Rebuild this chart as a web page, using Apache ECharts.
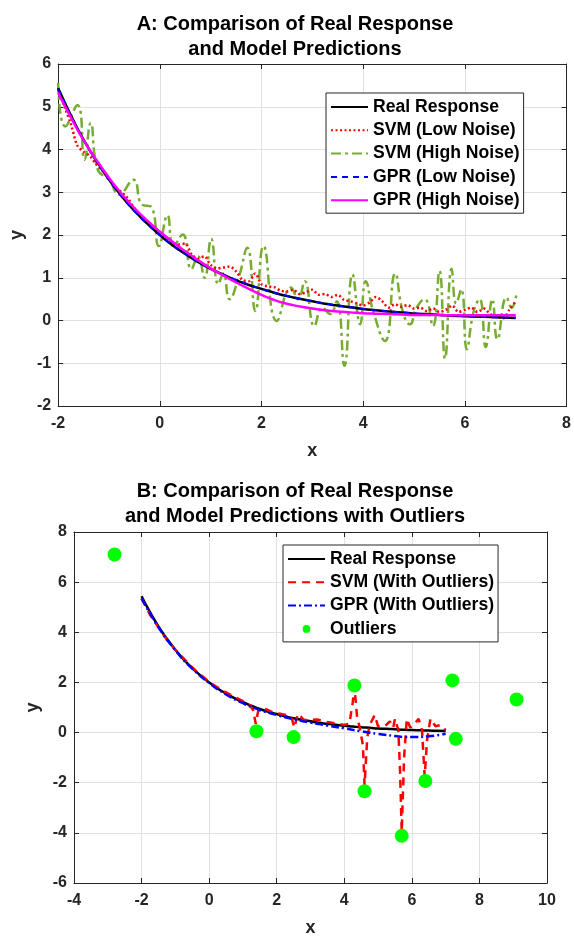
<!DOCTYPE html>
<html>
<head>
<meta charset="utf-8">
<script src="https://cdn.jsdelivr.net/npm/echarts@6/dist/echarts.min.js"></script>
<style>
html,body{margin:0;padding:0;background:#fff;}
#chart{width:574px;height:938px;}
</style>
</head>
<body>
<div id="chart"></div>
<script>
// ---------- Panel A data ----------
var realX = [-2,-1.75,-1.5,-1.25,-1,-0.75,-0.5,-0.25,0,0.25,0.5,0.75,1,1.25,1.5,1.75,2,2.25,2.5,2.75,3,3.25,3.5,3.75,4,4.25,4.5,4.75,5,5.25,5.5,5.75,6,6.25,6.5,6.75,7];
var realY = [5.44,4.80,4.23,3.74,3.30,2.91,2.57,2.27,2.00,1.76,1.56,1.37,1.21,1.07,0.94,0.83,0.74,0.65,0.57,0.51,0.45,0.39,0.35,0.31,0.27,0.24,0.21,0.19,0.16,0.15,0.13,0.11,0.10,0.09,0.08,0.07,0.06];

var gprLowY = [5.42,4.79,4.22,3.73,3.29,2.90,2.56,2.26,2.00,1.76,1.55,1.37,1.21,1.07,0.95,0.84,0.74,0.65,0.58,0.51,0.45,0.40,0.35,0.31,0.27,0.24,0.21,0.19,0.17,0.15,0.13,0.12,0.10,0.09,0.08,0.07,0.07];

var gprHighY = [5.33,4.75,4.22,3.76,3.34,2.96,2.63,2.34,2.08,1.84,1.62,1.41,1.22,1.05,0.89,0.74,0.60,0.48,0.39,0.33,0.28,0.24,0.21,0.19,0.17,0.16,0.15,0.14,0.13,0.13,0.13,0.12,0.12,0.12,0.12,0.12,0.12];

var svmLowX = [-2,-1.875,-1.75,-1.625,-1.5,-1.375,-1.25,-1.125,-1,-0.875,-0.75,-0.625,-0.5,-0.375,-0.25,-0.125,0,0.125,0.25,0.375,0.5,0.625,0.75,0.875,1,1.125,1.25,1.375,1.5,1.625,1.75,1.875,2,2.125,2.25,2.375,2.5,2.625,2.75,2.875,3,3.125,3.25,3.375,3.5,3.625,3.75,3.875,4,4.125,4.25,4.375,4.5,4.625,4.75,4.875,5,5.125,5.25,5.375,5.5,5.625,5.75,5.875,6,6.125,6.25,6.375,6.5,6.625,6.75,6.875,7];
var svmLowY = [5.40,5.00,4.60,4.10,3.95,3.85,3.65,3.50,3.30,3.10,3.00,2.85,2.62,2.45,2.30,2.15,2.02,1.90,1.80,1.78,1.80,1.55,1.45,1.50,1.30,1.22,1.24,1.26,1.15,0.95,0.92,1.10,0.85,0.80,0.78,0.70,0.68,0.72,0.62,0.66,0.72,0.60,0.62,0.55,0.60,0.48,0.45,0.40,0.35,0.42,0.55,0.45,0.30,0.38,0.32,0.36,0.28,0.30,0.22,0.28,0.20,0.25,0.35,0.20,0.25,0.30,0.20,0.28,0.15,0.10,0.05,0.25,0.45];

var svmHighX = [-2,-1.86,-1.62,-1.48,-1.36,-1.22,-1.0,-0.8,-0.52,-0.35,-0.17,-0.02,0.15,0.27,0.45,0.62,0.75,0.88,1.01,1.15,1.25,1.37,1.55,1.72,1.88,2.04,2.30,2.58,2.72,2.85,3.04,3.2,3.35,3.48,3.63,3.79,3.94,4.05,4.2,4.43,4.63,4.78,4.92,5.05,5.21,5.37,5.5,5.61,5.74,5.83,5.93,6.04,6.17,6.29,6.41,6.54,6.64,6.82,6.92,7.02];
var svmHighY = [5.56,4.54,5.04,3.76,4.62,3.53,3.30,2.95,3.29,2.71,2.66,1.74,2.46,1.74,2.01,1.20,1.50,1.00,1.91,0.85,1.10,0.50,1.00,1.70,0.22,1.74,-0.01,0.77,0.50,0.92,-0.13,0.30,0.15,0.45,-1.06,1.08,-0.09,0.92,0.20,-0.48,1.10,0.20,-0.09,0.30,0.50,-0.13,1.16,-0.89,1.21,0.40,0.73,-0.67,0.20,0.50,-0.62,0.50,-0.44,0.54,0.30,0.65];

// ---------- Panel B data ----------
var svmOutX = [-2,-1.75,-1.5,-1.25,-1,-0.75,-0.5,-0.25,0,0.25,0.5,0.75,1,1.2,1.3,1.38,1.45,1.5,1.7,1.9,2.1,2.3,2.45,2.52,2.6,2.65,2.8,3,3.2,3.5,3.8,4,4.15,4.25,4.3,4.38,4.45,4.55,4.6,4.68,4.75,4.9,5,5.2,5.35,5.45,5.5,5.6,5.65,5.7,5.77,5.85,5.95,6.05,6.2,6.3,6.38,6.45,6.55,6.7,6.85,7];
var svmOutY = [5.35,4.70,4.20,3.70,3.30,2.95,2.60,2.30,2.02,1.80,1.60,1.42,1.25,1.10,0.90,0.35,0.85,0.95,0.92,0.80,0.75,0.70,0.55,0.20,0.60,0.75,0.50,0.50,0.52,0.42,0.35,0.30,0.35,1.20,1.85,0.60,0.25,-0.50,-2.10,-0.20,0.30,0.70,0.25,0.25,0.45,0.20,0.55,0.10,-1.50,-3.95,-1.00,0.55,0.20,0.30,0.55,0.10,-1.75,-0.30,0.55,0.25,0.30,0.10];

var gprOutX = [-2,-1.5,-1,-0.5,0,0.5,1,1.5,2,2.5,3,3.5,4,4.5,5,5.5,5.8,6,6.5,7];
var gprOutY = [5.35,4.20,3.28,2.55,1.98,1.52,1.17,0.90,0.70,0.53,0.40,0.28,0.17,0.05,-0.05,-0.14,-0.18,-0.18,-0.15,-0.05];

var outlierX = [-2.8,1.4,2.5,4.3,4.6,5.7,6.4,7.2,7.3,9.1];
var outlierY = [7.1,0.05,-0.18,1.88,-2.34,-4.12,-1.93,2.08,-0.25,1.32];

// tick settings
var aXTicks = {min:-2, max:8, interval:2};
var aYTicks = {min:-2, max:6, interval:1};
var bXTicks = {min:-4, max:10, interval:2};
var bYTicks = {min:-6, max:8, interval:2};

function pairs(xs, ys){ return xs.map(function(x,i){ return [x, ys[i]]; }); }

var TXT = '#262626';
var FONT = 'Liberation Sans, Arial, Helvetica, sans-serif';
var GRIDC = '#e1e1e1';

function mainX(grid, t){
  return {type:'value', gridIndex:grid, min:t.min, max:t.max, interval:t.interval, position:'bottom',
    name:'x', nameLocation:'middle', nameGap:36,
    nameTextStyle:{fontFamily:FONT, fontWeight:'bold', fontSize:18, color:TXT},
    axisLine:{show:true, onZero:false, lineStyle:{color:TXT, width:1}},
    axisTick:{show:true, inside:true, length:5, lineStyle:{color:TXT}},
    axisLabel:{fontFamily:FONT, fontWeight:'bold', fontSize:16, color:TXT, margin:10},
    splitLine:{show:true, lineStyle:{color:GRIDC, width:1}}};
}
function sideX(grid, t){
  return {type:'value', gridIndex:grid, min:t.min, max:t.max, interval:t.interval, position:'top',
    axisLine:{show:true, onZero:false, lineStyle:{color:TXT, width:1}},
    axisTick:{show:true, inside:true, length:5, lineStyle:{color:TXT}},
    axisLabel:{show:false}, splitLine:{show:false}};
}
function mainY(grid, t, gap){
  return {type:'value', gridIndex:grid, min:t.min, max:t.max, interval:t.interval, position:'left',
    name:'y', nameLocation:'middle', nameGap:gap, nameRotate:90,
    nameTextStyle:{fontFamily:FONT, fontWeight:'bold', fontSize:18, color:TXT},
    axisLine:{show:true, onZero:false, lineStyle:{color:TXT, width:1}},
    axisTick:{show:true, inside:true, length:5, lineStyle:{color:TXT}},
    axisLabel:{fontFamily:FONT, fontWeight:'bold', fontSize:16, color:TXT, margin:7},
    splitLine:{show:true, lineStyle:{color:GRIDC, width:1}}};
}
function sideY(grid, t){
  return {type:'value', gridIndex:grid, min:t.min, max:t.max, interval:t.interval, position:'right',
    axisLine:{show:true, onZero:false, lineStyle:{color:TXT, width:1}},
    axisTick:{show:true, inside:true, length:5, lineStyle:{color:TXT}},
    axisLabel:{show:false}, splitLine:{show:false}};
}

var hideSym = {opacity:0};
var legendText = {fontFamily:FONT, fontWeight:'bold', fontSize:17.6, color:'#000', lineHeight:20};
var titleText = {fontFamily:FONT, fontWeight:'bold', fontSize:20, color:'#000', lineHeight:25};

var option = {
  animation:false,
  backgroundColor:'#fff',
  title:[
    {text:'A: Comparison of Real Response\nand Model Predictions', left:295, textAlign:'center', top:11.5, padding:0, textStyle:titleText},
    {text:'B: Comparison of Real Response\nand Model Predictions with Outliers', left:295, textAlign:'center', top:479, padding:0, textStyle:titleText}
  ],
  grid:[
    {left:53, top:64, width:515, height:342},
    {left:74, top:532, width:473, height:356}
  ],
  xAxis:[mainX(0,aXTicks), sideX(0,aXTicks), mainX(1,bXTicks), sideX(1,bXTicks)],
  yAxis:[mainY(0,aYTicks,29), sideY(0,aYTicks), mainY(1,bYTicks,29), sideY(1,bYTicks)],
  legend:[
    {orient:'vertical', left:326, top:93, itemWidth:37, itemHeight:14, itemGap:3.3,
     padding:[4,4,3,4], backgroundColor:'#fff', borderColor:'#262626', borderWidth:1, borderRadius:0,
     textStyle:legendText,
     data:[{name:'Real Response',itemStyle:hideSym},{name:'SVM (Low Noise)',itemStyle:hideSym},
           {name:'SVM (High Noise)',itemStyle:hideSym},{name:'GPR (Low Noise)',itemStyle:hideSym},
           {name:'GPR (High Noise)',itemStyle:hideSym}]},
    {orient:'vertical', left:283, top:545, itemWidth:37, itemHeight:14, itemGap:3.3,
     padding:[4,4,3,4], backgroundColor:'#fff', borderColor:'#262626', borderWidth:1, borderRadius:0,
     textStyle:legendText,
     data:[{name:'Real Response',itemStyle:hideSym},{name:'SVM (With Outliers)',itemStyle:hideSym},
           {name:'GPR (With Outliers)',itemStyle:hideSym},
           {name:'Outliers', icon:'path://M-19,-7L-19,-7M19,7L19,7M4,0A4,4,0,1,1,-4,0A4,4,0,1,1,4,0Z'}]}
  ],
  series:[
    {name:'SVM (High Noise)', type:'line', xAxisIndex:0, yAxisIndex:0, symbol:'none', smooth:0.5,
     data:pairs(svmHighX, svmHighY), z:2,
     lineStyle:{color:'#77ac30', width:2.5, type:[10,4,3,4]}, itemStyle:{color:'#77ac30'}},
    {name:'SVM (Low Noise)', type:'line', xAxisIndex:0, yAxisIndex:0, symbol:'none', smooth:0.3,
     data:pairs(svmLowX, svmLowY), z:3,
     lineStyle:{color:'#ff0000', width:2.5, type:[2,2.5]}, itemStyle:{color:'#ff0000'}},
    {name:'Real Response', type:'line', xAxisIndex:0, yAxisIndex:0, symbol:'none', smooth:true,
     data:pairs(realX, realY), z:4,
     lineStyle:{color:'#000000', width:2.5}, itemStyle:{color:'#000'}},
    {name:'GPR (Low Noise)', type:'line', xAxisIndex:0, yAxisIndex:0, symbol:'none', smooth:true,
     data:pairs(realX, gprLowY), z:5,
     lineStyle:{color:'#0000ff', width:2, type:[6,5]}, itemStyle:{color:'#0000ff'}},
    {name:'GPR (High Noise)', type:'line', xAxisIndex:0, yAxisIndex:0, symbol:'none', smooth:true,
     data:pairs(realX, gprHighY), z:6,
     lineStyle:{color:'#ff00ff', width:2.5}, itemStyle:{color:'#ff00ff'}},

    {name:'Real Response', type:'line', xAxisIndex:2, yAxisIndex:2, symbol:'none', smooth:true,
     data:pairs(realX, realY), z:4,
     lineStyle:{color:'#000000', width:2.5}, itemStyle:{color:'#000'}},
    {name:'SVM (With Outliers)', type:'line', xAxisIndex:2, yAxisIndex:2, symbol:'none', smooth:false,
     data:pairs(svmOutX, svmOutY), z:5,
     lineStyle:{color:'#ff0000', width:2.5, type:[8,6]}, itemStyle:{color:'#ff0000'}},
    {name:'GPR (With Outliers)', type:'line', xAxisIndex:2, yAxisIndex:2, symbol:'none', smooth:true,
     data:pairs(gprOutX, gprOutY), z:6,
     lineStyle:{color:'#0000ff', width:2.5, type:[8,3,2,3]}, itemStyle:{color:'#0000ff'}},
    {name:'Outliers', type:'scatter', xAxisIndex:2, yAxisIndex:2, symbol:'circle', symbolSize:14,
     data:pairs(outlierX, outlierY), z:7,
     itemStyle:{color:'#00ff00', opacity:1}}
  ]
};

var chart = echarts.init(document.getElementById('chart'), null, {renderer:'canvas'});
chart.setOption(option);
</script>
</body>
</html>
